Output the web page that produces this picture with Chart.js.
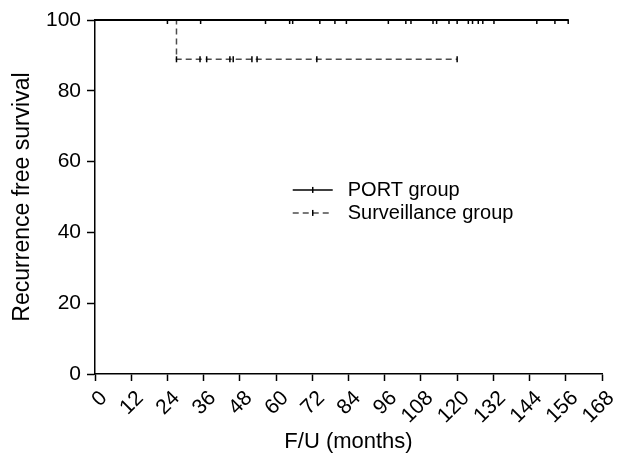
<!DOCTYPE html>
<html>
<head>
<meta charset="utf-8">
<script src="https://cdn.jsdelivr.net/npm/chart.js@4"></script>
<style>
  html, body { margin: 0; padding: 0; background: #fff; }
  #wrap { width: 632px; height: 460px; }
</style>
</head>
<body>
<div id="wrap"><canvas id="km"></canvas></div>
<script>
// Kaplan-Meier curves
const xTicks = [0, 12, 24, 36, 48, 60, 72, 84, 96, 108, 120, 132, 144, 156, 168];
const yTicks = [0, 20, 40, 60, 80, 100];

const portTimes  = [0, 157];
const portSurv   = [100, 100];
const portCensor = [24, 35, 56.5, 64.5, 65.5, 74.5, 79.5, 83.3, 97.2, 103, 104.7,
                    112, 113.2, 117.3, 120, 123.7, 125.1, 127, 128.5, 132.2, 146.4, 152.4, 156.8];

const survTimes  = [0, 27, 120];
const survSurv   = [100, 88.9, 88.9];
const survCensor = [27, 34.8, 37, 44.7, 45.8, 52, 53.7, 73.5, 120];
const survCensorLevel = 88.9;

const legendLabels = ['PORT group', 'Surveillance group'];

const FONT = "'Liberation Sans', Arial, sans-serif";
const BLACK = '#000';
const GREY = '#4d4d4d';

const pts = (xs, ys) => xs.map((x, i) => ({ x, y: ys[i] }));
const censorPts = (xs, level) => xs.map(x => ({ x, y: level }));

// little legend drawn inside the plot, like the original figure
const innerLegend = {
  id: 'innerLegend',
  afterDatasetsDraw(chart) {
    const { ctx, chartArea: a } = chart;
    const x0 = a.left + 0.39 * (a.right - a.left);
    const y0 = a.top + 0.48 * (a.bottom - a.top);
    const rows = [
      { label: legendLabels[0], color: BLACK, dash: [] },
      { label: legendLabels[1], color: GREY, dash: [6, 4] },
    ];
    ctx.save();
    rows.forEach((r, i) => {
      const y = y0 + i * 23;
      ctx.strokeStyle = r.color;
      ctx.lineWidth = 1.5;
      ctx.setLineDash(r.dash);
      ctx.beginPath();
      ctx.moveTo(x0, y);
      ctx.lineTo(x0 + 40, y);
      ctx.stroke();
      ctx.setLineDash([]);
      ctx.strokeStyle = BLACK;
      ctx.beginPath();
      ctx.moveTo(x0 + 20, y - 3);
      ctx.lineTo(x0 + 20, y + 3);
      ctx.stroke();
      ctx.fillStyle = BLACK;
      ctx.font = '20px ' + FONT;
      ctx.textBaseline = 'middle';
      ctx.fillText(r.label, x0 + 55, y + 1);
    });
    ctx.restore();
  }
};

new Chart(document.getElementById('km'), {
  type: 'scatter',
  data: {
    datasets: [
      {
        label: legendLabels[1],
        data: pts(survTimes, survSurv),
        showLine: true,
        stepped: true,
        borderColor: GREY,
        borderWidth: 1.5,
        borderDash: [6, 4],
        pointRadius: 0,
        order: 3,
      },
      {
        label: legendLabels[0],
        data: pts(portTimes, portSurv),
        showLine: true,
        stepped: true,
        borderColor: BLACK,
        borderWidth: 2,
        pointRadius: 0,
        clip: false,
        order: 2,
      },
      {
        label: 'PORT censored',
        data: censorPts(portCensor, 100),
        pointStyle: 'line',
        rotation: 90,
        radius: 4,
        borderColor: BLACK,
        borderWidth: 1.5,
        clip: { left: 5, top: 0, right: 5, bottom: 5 },
        order: 1,
      },
      {
        label: 'Surveillance censored',
        data: censorPts(survCensor, survCensorLevel),
        pointStyle: 'line',
        rotation: 90,
        radius: 3,
        borderColor: BLACK,
        borderWidth: 1.5,
        order: 1,
      },
    ]
  },
  options: {
    responsive: true,
    maintainAspectRatio: false,
    animation: false,
    events: [],
    layout: { padding: { top: 20, right: 30, left: 0, bottom: 0 } },
    plugins: {
      legend: { display: false },
      tooltip: { enabled: false },
    },
    scales: {
      x: {
        type: 'linear',
        min: 0,
        max: 168,
        afterFit(scale) { scale.height = 86; },
        afterBuildTicks(scale) { scale.ticks = xTicks.map(v => ({ value: v })); },
        grid: {
          drawOnChartArea: false,
          drawTicks: true,
          tickLength: 7,
          tickWidth: 1.5,
          tickColor: BLACK,
        },
        border: { color: BLACK, width: 1.5 },
        ticks: {
          autoSkip: false,
          minRotation: 45,
          maxRotation: 45,
          padding: 5,
          labelOffset: 9,
          color: BLACK,
          font: { size: 21, family: FONT },
        },
        title: {
          display: true,
          text: 'F/U (months)',
          color: BLACK,
          font: { size: 22, family: FONT },
          padding: { top: 0, bottom: 5 },
        },
      },
      y: {
        min: 0,
        max: 100,
        afterFit(scale) { scale.width = 95; },
        afterBuildTicks(scale) { scale.ticks = yTicks.map(v => ({ value: v })); },
        grid: {
          drawOnChartArea: false,
          drawTicks: true,
          tickLength: 8,
          tickWidth: 1.5,
          tickColor: BLACK,
        },
        border: { color: BLACK, width: 1.5 },
        ticks: {
          padding: 6,
          color: BLACK,
          font: { size: 21, family: FONT },
        },
        title: {
          display: true,
          text: 'Recurrence free survival',
          color: BLACK,
          font: { size: 23, family: FONT },
          padding: { top: 9, bottom: 0 },
        },
      },
    },
  },
  plugins: [innerLegend],
});
</script>
</body>
</html>
